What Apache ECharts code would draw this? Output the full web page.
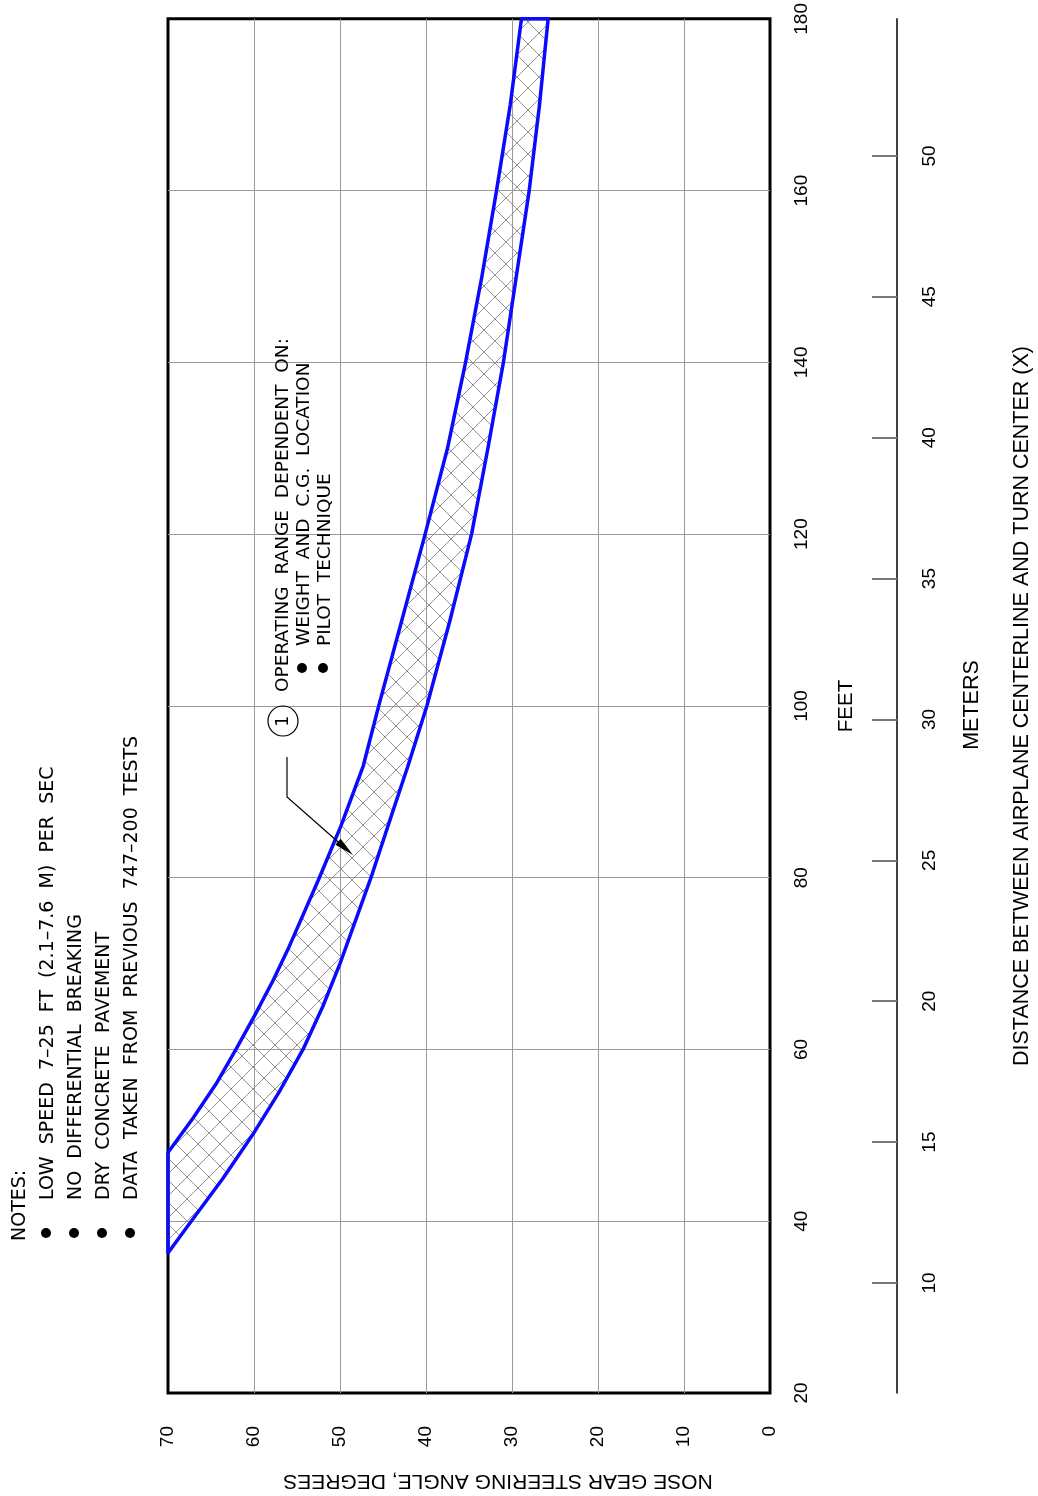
<!DOCTYPE html>
<html><head><meta charset="utf-8">
<script src="https://cdn.jsdelivr.net/npm/echarts@6/dist/echarts.min.js"></script>
<style>html,body{margin:0;padding:0;background:#fff}#c{width:1038px;height:1496px}</style>
</head><body><div id="c"></div><script>
// High-angle boundary of the operating band (feet, degrees)
const upperFeet = [48, 52, 56, 60, 64, 68, 72, 80, 86, 93, 100, 110, 120, 130, 140, 150, 160, 170, 180];
const upperDeg  = [70, 67.1, 64.4, 62.1, 59.9, 57.8, 55.9, 52.4, 49.9, 47.3, 45.5, 42.8, 40.1, 37.5, 35.4, 33.5, 31.8, 30.2, 28.9];
// Low-angle boundary of the operating band
const lowerFeet = [36.3, 40, 45, 50, 55, 60, 65, 70, 80, 87, 93, 100, 110, 120, 130, 140, 150, 160, 170, 180];
const lowerDeg  = [70, 67.3, 63.6, 60.2, 57.1, 54.3, 52.0, 50.0, 46.4, 44.1, 42.1, 39.9, 37.2, 34.7, 32.8, 31.0, 29.5, 28.0, 26.8, 25.8];
// Secondary (meters) axis tick labels
const meterTicks = [10, 15, 20, 25, 30, 35, 40, 45, 50];
const FT_TO_M = 0.3048;

const noteTitle = 'NOTES:';
const notes = [
  'LOW  SPEED  7\u201325  FT  (2.1\u20137.6  M)  PER  SEC',
  'NO  DIFFERENTIAL  BREAKING',
  'DRY  CONCRETE  PAVEMENT',
  'DATA  TAKEN  FROM  PREVIOUS  747\u2013200  TESTS'
];
const annTitle = 'OPERATING  RANGE  DEPENDENT  ON:';
const annItems = ['WEIGHT  AND  C.G.  LOCATION', 'PILOT  TECHNIQUE'];
const calloutNo = '1';
const titleFeet = 'FEET';
const titleMeters = 'METERS';
const titleDist = 'DISTANCE BETWEEN AIRPLANE CENTERLINE AND TURN CENTER (X)';
const titleAngle = 'NOSE GEAR STEERING ANGLE, DEGREES';

const SANS = '"Liberation Sans", Arial, sans-serif';
const CAD = '"DejaVu Sans", sans-serif';

// cross-hatch pattern
const T = 22;
const pc = document.createElement('canvas');
pc.width = T; pc.height = T;
const pctx = pc.getContext('2d');
pctx.strokeStyle = '#939393';
pctx.lineWidth = 1;
pctx.beginPath();
pctx.moveTo(0, 0); pctx.lineTo(T, T);
pctx.moveTo(T, 0); pctx.lineTo(0, T);
pctx.stroke();

function rtext(x, y, text, size, family, align, rot) {
  return {
    type: 'text', x: x, y: y, rotation: rot === undefined ? Math.PI / 2 : rot, z: 50,
    style: {
      text: text, x: 0, y: 0, fill: '#000',
      fontSize: size, fontFamily: family,
      align: align, textAlign: align, verticalAlign: 'middle', textVerticalAlign: 'middle'
    }
  };
}
function dot(x, y, r) {
  return { type: 'circle', z: 50, shape: { cx: x, cy: y, r: r }, style: { fill: '#000' } };
}

const graphics = [];
graphics.push(rtext(20, 1241, noteTitle, 19, CAD, 'left'));
const noteX = [48, 76, 104, 132];
notes.forEach(function (t, i) {
  graphics.push(dot(noteX[i] - 2, 1233, 5));
  graphics.push(rtext(noteX[i], 1200, t, 19, CAD, 'left'));
});
graphics.push(rtext(283, 692, annTitle, 18.5, CAD, 'left'));
graphics.push(dot(302, 668, 5));
graphics.push(rtext(304, 646, annItems[0], 18.5, CAD, 'left'));
graphics.push(dot(323, 668, 5));
graphics.push(rtext(325, 646, annItems[1], 18.5, CAD, 'left'));
// callout bubble + leader
graphics.push({ type: 'circle', z: 50, shape: { cx: 283, cy: 721, r: 15 }, style: { fill: 'none', stroke: '#000', lineWidth: 1.2 } });
graphics.push(rtext(284, 721, calloutNo, 17, CAD, 'center'));
graphics.push({ type: 'polyline', z: 50, shape: { points: [[287, 757], [287, 797], [345, 848]] }, style: { stroke: '#000', lineWidth: 1.2, fill: null } });
graphics.push({ type: 'polygon', z: 50, shape: { points: [[353, 855], [335.4, 844.8], [340.6, 838.8]] }, style: { fill: '#000' } });
// axis titles
graphics.push(rtext(846, 706, titleFeet, 20.5, SANS, 'center'));
graphics.push(rtext(972, 705, titleMeters, 21.5, SANS, 'center'));
graphics.push(rtext(1022, 706, titleDist, 21.5, SANS, 'center'));
graphics.push(rtext(498, 1481, titleAngle, 21, SANS, 'center', Math.PI));

const chart = echarts.init(document.getElementById('c'), null, { renderer: 'canvas' });
const labelStyle = { color: '#000', fontSize: 19, fontFamily: SANS };
const split = { show: true, showMinLine: false, showMaxLine: false, lineStyle: { color: '#9a9a9a', width: 1 } };

chart.setOption({
  animation: false,
  backgroundColor: '#fff',
  grid: { left: 168, top: 16, width: 602, height: 1377, show: true, borderColor: '#000', borderWidth: 3, backgroundColor: 'transparent' },
  xAxis: {
    type: 'value', min: 0, max: 70, interval: 10, inverse: true, position: 'bottom',
    axisLine: { show: false }, axisTick: { show: false }, splitLine: split,
    axisLabel: Object.assign({ rotate: 90, margin: 33 }, labelStyle)
  },
  yAxis: [{
    type: 'value', min: 20, max: 180, interval: 20, position: 'right',
    axisLine: { show: false }, axisTick: { show: false }, splitLine: split,
    axisLabel: Object.assign({ rotate: 90, margin: 22 }, labelStyle)
  }, {
    type: 'value', min: 20 * FT_TO_M, max: 180 * FT_TO_M, position: 'right', offset: 127,
    axisLine: { show: true, lineStyle: { color: '#000', width: 1.5 } },
    axisTick: { show: true, inside: true, length: 25, customValues: meterTicks, lineStyle: { color: '#777', width: 2 } },
    axisLabel: Object.assign({ rotate: 90, margin: 23, customValues: meterTicks }, labelStyle),
    splitLine: { show: false }
  }],
  series: [{
    type: 'custom', xAxisIndex: 0, yAxisIndex: 0, z: 5, clip: false,
    data: [[upperDeg[0], upperFeet[0]]],
    renderItem: function (params, api) {
      const up = upperFeet.map(function (f, i) { return api.coord([upperDeg[i], f]); });
      const lo = lowerFeet.map(function (f, i) { return api.coord([lowerDeg[i], f]); }).reverse();
      return {
        type: 'polygon',
        shape: { points: up.concat(lo) },
        style: { fill: { image: pc, repeat: 'repeat' }, stroke: '#0a0aff', lineWidth: 3.5, lineJoin: 'round' }
      };
    }
  }],
  graphic: graphics
});
</script></body></html>
